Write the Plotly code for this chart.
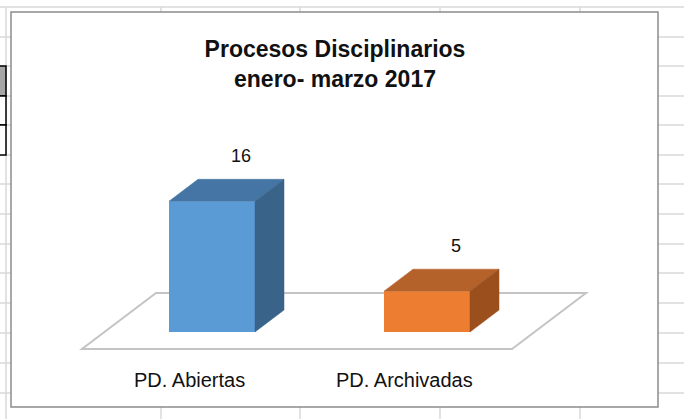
import plotly.graph_objects as go

# ---------------- data ----------------
categories = ["PD. Abiertas", "PD. Archivadas"]
values = [16, 5]
title_lines = ["Procesos Disciplinarios", "enero- marzo 2017"]

# ---------------- styles ----------------
W, H = 684, 419
front_colors = ["#5B9BD5", "#ED7D31"]
top_colors = ["#4475A4", "#B5612A"]
side_colors = ["#3A6389", "#9A4F1D"]
FLOOR_COLOR = "#c4c4c4"
GRID_COLOR = "#d9d9d9"
BORDER_COLOR = "#8c8c8c"
TEXT_FONT = "Liberation Sans"

# scale of the (pseudo 3D) chart
PX_PER_CAT = 215.0
PX_PER_UNIT = 8.17
FLOOR_LEFT_PX = 82.0
FLOOR_FRONT_PX = 349.0
x_lo = -0.5 - FLOOR_LEFT_PX / PX_PER_CAT
x_range = [x_lo, x_lo + W / PX_PER_CAT]
y_range = [-(H - FLOOR_FRONT_PX) / PX_PER_UNIT, FLOOR_FRONT_PX / PX_PER_UNIT]

DX = 74.0 / PX_PER_CAT      # full floor depth, x direction
DY = 56.0 / PX_PER_UNIT     # full floor depth, y direction
D0, D1 = 0.304, 0.696       # bar depth extent in floor depth fraction
BW = 0.40                   # bar width in category units

n = len(categories)
fig = go.Figure()

ddx = (D1 - D0) * DX
ddy = (D1 - D0) * DY
base = D0 * DY
for i, (cat, v) in enumerate(zip(categories, values)):
    cx = i + D0 * DX
    top = base + v
    # front face (real bar)
    fig.add_trace(go.Bar(x=[cx], y=[v], base=[base], width=BW,
                         marker=dict(color=front_colors[i], line=dict(width=0)),
                         hoverinfo="skip", showlegend=False))
    # top face
    fig.add_trace(go.Scatter(
        x=[cx - BW / 2, cx + BW / 2, cx + BW / 2 + ddx, cx - BW / 2 + ddx, cx - BW / 2],
        y=[top, top, top + ddy, top + ddy, top],
        mode="lines", fill="toself", fillcolor=top_colors[i],
        line=dict(color=top_colors[i], width=0.5),
        hoverinfo="skip", showlegend=False))
    # side face
    fig.add_trace(go.Scatter(
        x=[cx + BW / 2, cx + BW / 2 + ddx, cx + BW / 2 + ddx, cx + BW / 2, cx + BW / 2],
        y=[base, base + ddy, top + ddy, top, base],
        mode="lines", fill="toself", fillcolor=side_colors[i],
        line=dict(color=side_colors[i], width=0.5),
        hoverinfo="skip", showlegend=False))
    # data label above the bar
    fig.add_annotation(x=cx + ddx, y=top + ddy, text=str(v), showarrow=False,
                       yshift=23, yanchor="middle", xanchor="center",
                       font=dict(family=TEXT_FONT, size=18, color="#111111"))
    # category label under the floor
    fig.add_annotation(x=i, y=0, text=cat, showarrow=False, yshift=-31,
                       yanchor="middle", xanchor="center",
                       font=dict(family=TEXT_FONT, size=20, color="#111111"))

# ---------------- background (spreadsheet + chart box + floor) ----------------
def px(x):
    return x / W

def py(y):
    return 1 - y / H

shapes = []
grid_rows = [7, 37, 66, 96, 125, 155, 184, 214, 244, 273, 303, 333, 363, 393]
grid_cols = [6, 161, 300, 440, 580]
for yy in grid_rows:
    shapes.append(dict(type="line", xref="paper", yref="paper", x0=0, x1=1,
                       y0=py(yy), y1=py(yy), line=dict(color=GRID_COLOR, width=1.5), layer="below"))
for xx in grid_cols:
    shapes.append(dict(type="line", xref="paper", yref="paper", x0=px(xx), x1=px(xx),
                       y0=py(7), y1=0, line=dict(color=GRID_COLOR, width=1.5), layer="below"))
# left black-bordered cells
shapes.append(dict(type="rect", xref="paper", yref="paper", x0=px(-2), x1=px(6),
                   y0=py(96), y1=py(66), fillcolor="#a6a6a6",
                   line=dict(color="#000000", width=1.5), layer="below"))
for y_a, y_b in [(96, 125), (125, 155)]:
    shapes.append(dict(type="rect", xref="paper", yref="paper", x0=px(-2), x1=px(6),
                       y0=py(y_b), y1=py(y_a), fillcolor="white",
                       line=dict(color="#000000", width=1.5), layer="below"))
# chart box
shapes.append(dict(type="rect", xref="paper", yref="paper", x0=px(11), x1=px(658),
                   y0=py(407), y1=py(12), fillcolor="white",
                   line=dict(color=BORDER_COLOR, width=1.5), layer="below"))
# floor of the 3D plot
fx0, fx1 = -0.5, n - 0.5
shapes.append(dict(type="path", xref="x", yref="y",
                   path=f"M {fx0},0 L {fx1},0 L {fx1 + DX},{DY} L {fx0 + DX},{DY} Z",
                   line=dict(color=FLOOR_COLOR, width=2), fillcolor="rgba(0,0,0,0)",
                   layer="below"))

fig.update_layout(
    width=W, height=H,
    margin=dict(l=0, r=0, t=0, b=0),
    paper_bgcolor="white", plot_bgcolor="rgba(0,0,0,0)",
    shapes=shapes,
    barmode="overlay",
    title=dict(text="<b>" + "<br>".join(title_lines) + "</b>",
               x=335 / W, xanchor="center", xref="paper",
               y=1 - 57 / H, yanchor="middle", yref="container",
               font=dict(family=TEXT_FONT, size=23, color="#111111")),
    xaxis=dict(range=x_range, visible=False, fixedrange=True),
    yaxis=dict(range=y_range, visible=False, fixedrange=True),
    showlegend=False,
)

fig.write_html("out.html", config={"displayModeBar": False, "staticPlot": True},
               post_script="document.body.style.margin='0';document.body.style.overflow='hidden';")
